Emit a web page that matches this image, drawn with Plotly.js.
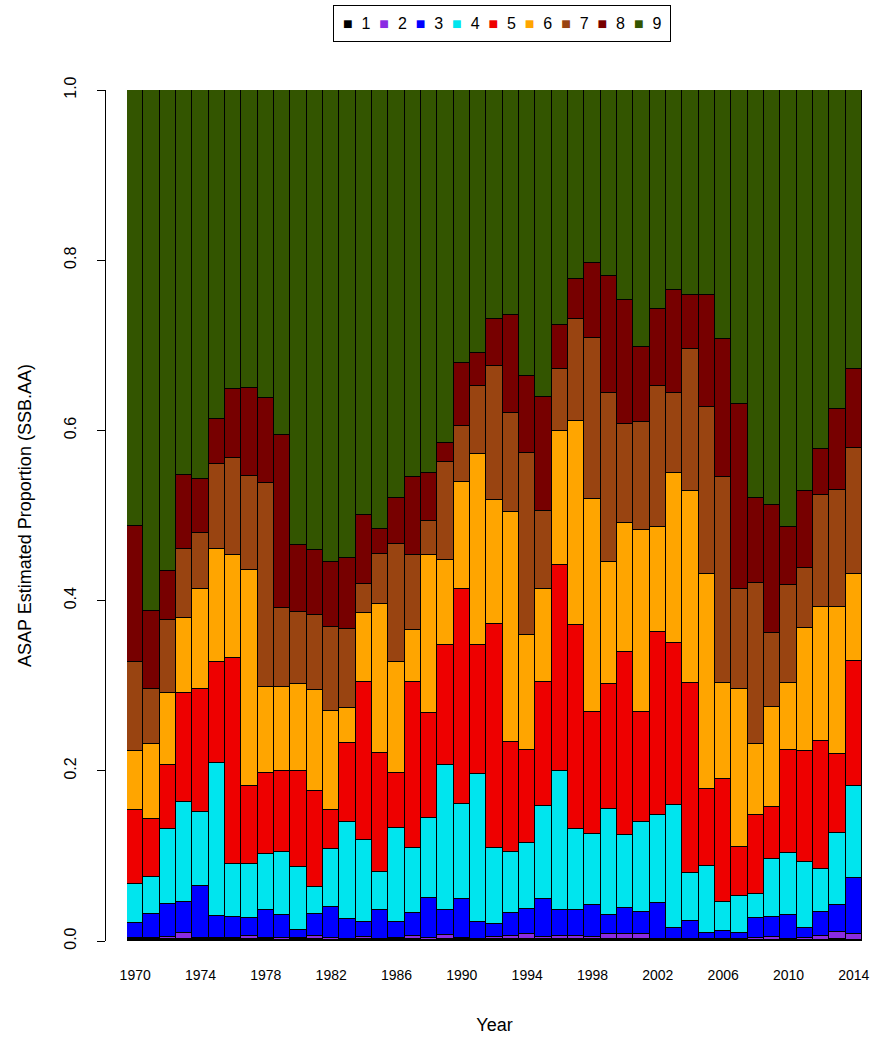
<!DOCTYPE html>
<html>
<head>
<meta charset="utf-8">
<script src="https://cdn.plot.ly/plotly-3.0.1.min.js"></script>
<style>html,body{margin:0;padding:0;background:#fff;}#chart{width:883px;height:1037px;}</style>
</head>
<body>
<div id="chart"></div>
<script>
var years = [1970,1971,1972,1973,1974,1975,1976,1977,1978,1979,1980,1981,1982,1983,1984,1985,1986,1987,1988,1989,1990,1991,1992,1993,1994,1995,1996,1997,1998,1999,2000,2001,2002,2003,2004,2005,2006,2007,2008,2009,2010,2011,2012,2013,2014];
var ageNames = ['1','2','3','4','5','6','7','8','9'];
var ageColors = ['#000000','#8A2BE2','#0000FF','#00E5EE','#EE0000','#FFA500','#994411','#770000','#335500'];

var age1 = [.002,.002,.002,.002,.002,.002,.002,.002,.002,.001,.002,.002,.001,.001,.002,.001,.002,.002,.001,.002,.002,.001,.002,.002,.002,.002,.002,.002,.002,.002,.002,.002,.001,.001,.001,.001,.001,.001,.001,.001,.001,.001,.001,.002,.001];
var age2 = [.002,.002,.003,.007,.002,.002,.002,.004,.002,.002,.002,.004,.003,.0014,.003,.0014,.002,.004,.002,.005,.002,.0014,.0023,.004,.0058,.003,.0043,.0043,.003,.0058,.0058,.0058,.001,.001,.001,.001,.001,.001,.002,.004,.001,.003,.0053,.0086,.0068];
var age3 = [.0175,.0277,.0385,.037,.0606,.0254,.0246,.0214,.0324,.0276,.009,.0257,.0363,.0235,.0177,.034,.018,.0273,.048,.0294,.0454,.0203,.0157,.0273,.0294,.0444,.0301,.0301,.0373,.0228,.0314,.0267,.043,.0137,.0219,.0078,.0101,.0078,.0236,.0236,.0286,.0117,.0282,.0313,.0666];
var age4 = [.0455,.0439,.0885,.117,.0874,.1796,.0619,.0631,.0656,.0744,.074,.0313,.0677,.1136,.096,.0451,.1112,.0757,.093,.1704,.1112,.1731,.089,.0717,.0783,.1092,.1634,.0952,.0834,.1244,.0853,.1057,.103,.1441,.0564,.0787,.0337,.0435,.0286,.0678,.0724,.0775,.0501,.0854,.1077];
var age5 = [.087,.0681,.075,.128,.144,.119,.2425,.092,.095,.0948,.113,.1137,.046,.0928,.186,.139,.0648,.1957,.1243,.141,.253,.152,.2635,.1285,.1089,.1461,.242,.2397,.143,.1466,.2155,.1285,.2155,.19,.2232,.0905,.1446,.0575,.0928,.0606,.1214,.1301,.1508,.0924,.1473];
var age6 = [.0696,.0873,.084,.089,.118,.133,.1206,.2535,.102,.0992,.1016,.1183,.1166,.041,.0803,.1751,.1295,.0608,.1853,.0999,.1254,.2242,.1455,.2702,.1352,.1089,.1575,.2401,.2503,.1434,.1508,.2143,.1225,.1997,.2255,.2523,.1124,.1849,.0835,.1176,.0784,.1447,.1566,.1732,.1019];
var age7 = [.1044,.065,.086,.081,.066,.100,.1134,.110,.239,.092,.0854,.088,.0988,.0937,.0345,.0592,.139,.0881,.0399,.1153,.0665,.0805,.158,.1163,.2144,.0917,.0727,.1196,.190,.1985,.1167,.1265,.1662,.094,.1667,.1967,.2422,.1179,.1895,.0877,.1155,.0707,.132,.1371,.1477];
var age8 = [.160,.092,.058,.087,.0625,.052,.082,.104,.100,.204,.078,.0765,.0756,.0827,.0811,.029,.0535,.092,.056,.022,.0735,.0388,.055,.1156,.090,.1343,.0519,.047,.0873,.1379,.1457,.0889,.0905,.1215,.0633,.131,.1624,.2171,.099,.150,.0677,.0901,.0538,.0948,.0927];
var age9 = [.512,.612,.565,.452,.4575,.387,.351,.350,.362,.405,.535,.5405,.555,.5503,.4994,.5162,.480,.4544,.4505,.415,.321,.3087,.269,.2644,.336,.3604,.2761,.222,.2037,.2186,.2468,.3016,.2573,.235,.241,.241,.2926,.3693,.480,.4877,.514,.4712,.4222,.3752,.3283];

var yTicks = [0, 0.2, 0.4, 0.6, 0.8, 1.0];
var yTickText = ['0.0','0.2','0.4','0.6','0.8','1.0'];
var xTicks = [1970,1974,1978,1982,1986,1990,1994,1998,2002,2006,2010,2014];

var series = [age1,age2,age3,age4,age5,age6,age7,age8,age9];
var FONT = 'Liberation Sans, Arial, sans-serif';

var traces = series.map(function(vals, i){
  return {
    type: 'bar',
    name: ageNames[i],
    x: years,
    y: vals,
    marker: {color: ageColors[i], line: {color: '#000000', width: 1}},
    showlegend: false,
    hoverinfo: 'x+y+name'
  };
});

var legendText = ageNames.map(function(n, i){
  return '<span style="color:' + ageColors[i] + ';font-size:16px">\u25A0</span>&nbsp;&nbsp;' + n;
}).join('&nbsp;&nbsp;');

var layout = {
  width: 883,
  height: 1037,
  margin: {l: 105, r: 21, t: 90, b: 96, pad: 0},
  paper_bgcolor: '#ffffff',
  plot_bgcolor: '#ffffff',
  font: {family: FONT, color: '#000000', size: 14},
  barmode: 'stack',
  bargap: 0,
  showlegend: false,
  xaxis: {
    domain: [22/757, 1],
    range: [1969.5, 2014.5],
    tickvals: xTicks,
    ticktext: xTicks.map(String),
    showline: false,
    showgrid: false,
    zeroline: false,
    ticks: '',
    ticklabelstandoff: 24,
    tickfont: {size: 14, family: FONT},
    title: {text: 'Year', font: {size: 18, family: FONT}, standoff: 36}
  },
  yaxis: {
    anchor: 'free',
    position: 0,
    range: [0, 1],
    tickvals: yTicks,
    ticktext: yTickText,
    tickangle: -90,
    showline: true,
    linecolor: '#000000',
    linewidth: 1,
    ticks: 'outside',
    ticklen: 8,
    tickcolor: '#000000',
    ticklabelstandoff: 15,
    showgrid: false,
    zeroline: false,
    tickfont: {size: 16, family: FONT},
    title: {text: 'ASAP Estimated Proportion (SSB.AA)', font: {size: 18, family: FONT}, standoff: 24}
  },
  annotations: [{
    xref: 'paper', yref: 'paper',
    x: 0.525, y: 1.078,
    xanchor: 'center', yanchor: 'middle',
    showarrow: false,
    text: legendText,
    font: {size: 16, family: FONT, color: '#000000'},
    bordercolor: '#000000',
    borderwidth: 1,
    borderpad: 9,
    bgcolor: '#ffffff'
  }]
};

Plotly.newPlot('chart', traces, layout, {displayModeBar: false, responsive: false});
</script>
</body>
</html>
